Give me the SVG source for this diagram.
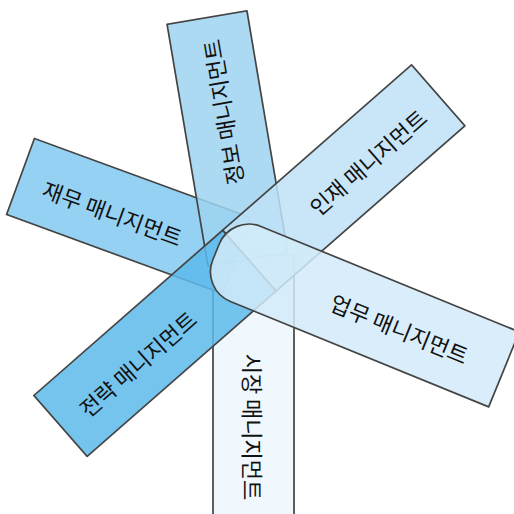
<svg xmlns="http://www.w3.org/2000/svg" width="514" height="514" viewBox="0 0 514 514">
<style>
.band{stroke:#444444;stroke-width:1.7;fill-opacity:0.85;stroke-linejoin:round}
.lbl{font-family:"Noto Sans CJK KR","Noto Sans",sans-serif;font-size:22px;fill:#111;text-anchor:middle;dominant-baseline:central}
</style>
<rect width="514" height="514" fill="#ffffff"/>
<g id="market" transform="translate(253.5,255)">
<rect class="band" x="-40.5" y="0" width="81" height="280" fill="#edf6fd"/>
<text class="lbl" transform="translate(0,172) rotate(90)">시장 매니지먼트</text>
</g>
<g id="finance" transform="translate(20.5,176.5) rotate(20.1)">
<rect class="band" x="0" y="-40.5" width="230" height="81" fill="#83c9f0"/>
<text class="lbl" x="99" y="2">재무 매니지먼트</text>
</g>
<g id="info" transform="translate(207,17.5) rotate(80.4)">
<rect class="band" x="0" y="-40.5" width="245" height="81" fill="#9dd3f1"/>
<text class="lbl" transform="translate(96,1) rotate(180)">정보 매니지먼트</text>
</g>
<g id="hr" transform="translate(60.5,426) rotate(-41.2)">
<rect class="band" x="251" y="-40.5" width="251" height="81" fill="#bee2f7"/>
<text class="lbl" x="405" y="3">인재 매니지먼트</text>
</g>
<g id="strategy" transform="translate(60.5,426) rotate(-41.2)">
<rect class="band" x="0" y="-40.5" width="251" height="81" fill="#5cbaeb"/>
<text class="lbl" x="99" y="3">전략 매니지먼트</text>
</g>
<g id="business" transform="translate(311.4,290.8) rotate(22.2)">
<path class="band" d="M-71,-40.5 H208 V40.5 H-71 A32,32 0 0 1 -103,8.5 V-8.5 A32,32 0 0 1 -71,-40.5 Z" fill="#d2ebf9"/>
<text class="lbl" x="96" y="1">업무 매니지먼트</text>
</g>
<g id="connectors"></g>
</svg>
